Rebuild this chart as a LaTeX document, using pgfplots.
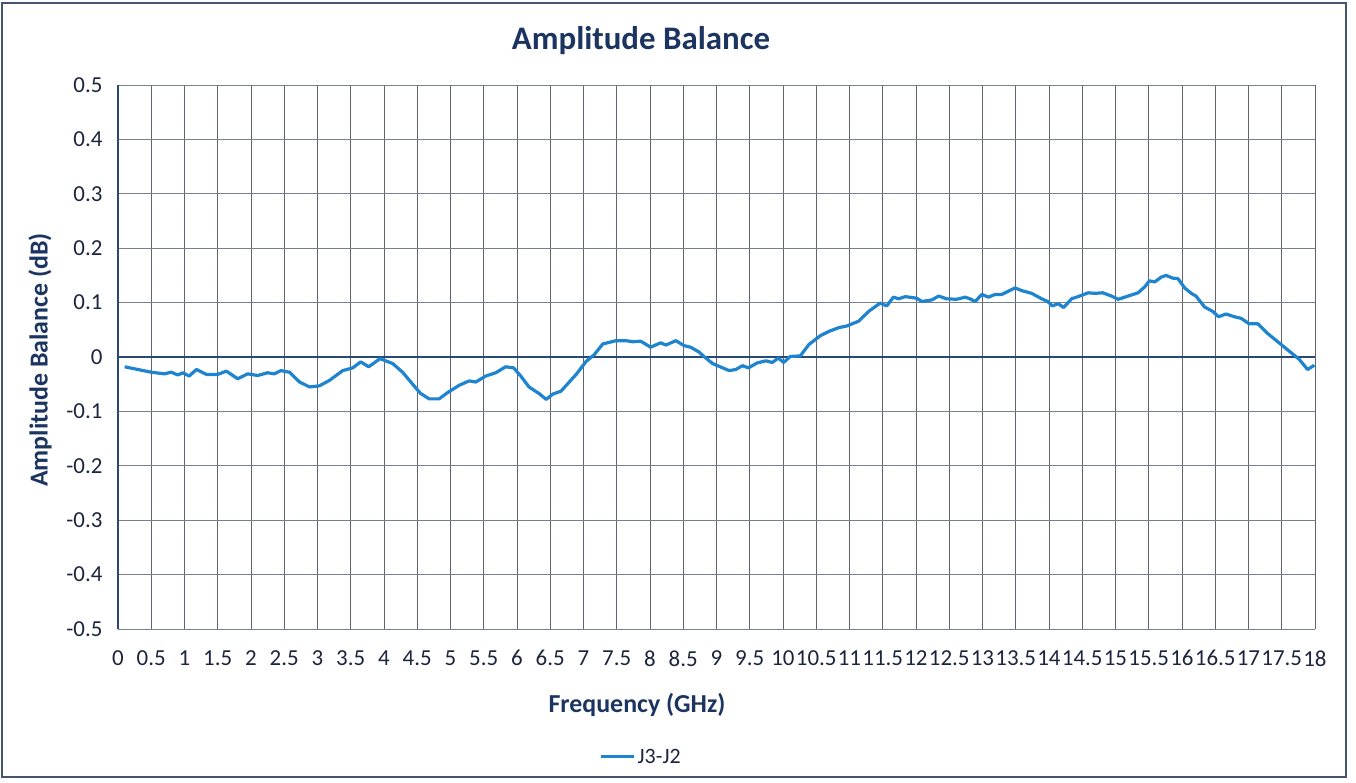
\documentclass[border=0pt]{standalone}
\usepackage{pgfplots}
\pgfplotsset{compat=1.18}
\usepackage{fontspec}
\setmainfont{Carlito}
\definecolor{titleblue}{RGB}{28,52,96}
\definecolor{tickcol}{RGB}{28,36,62}
\definecolor{curve}{RGB}{30,132,208}
\definecolor{gridc}{RGB}{120,128,140}
\definecolor{vgrid}{RGB}{95,100,110}
\definecolor{axisc}{RGB}{40,72,120}
\definecolor{framec}{RGB}{70,85,110}
\begin{document}
\begin{tikzpicture}
\path[use as bounding box] (0,0) rectangle (1356bp,783bp);
\draw[framec, line width=2.2bp] (2bp,6bp) rectangle (1346bp,780bp);
\begin{axis}[
  at={(118bp,154bp)}, anchor=south west,
  scale only axis, width=1197bp, height=544bp,
  xmin=0, xmax=18, ymin=-0.5, ymax=0.5,
  xtick={0,0.5,...,18}, ytick={-0.5,-0.4,...,0.5},
  /pgf/number format/assume math mode=true,
  /pgf/number format/fixed, /pgf/number format/precision=1,
  yticklabel style={/pgf/number format/fixed, /pgf/number format/precision=1},
  major tick length=0pt,
  axis line style={draw=none},
  ymajorgrids, xmajorgrids,
  major y grid style={gridc, line width=0.9bp},
  major x grid style={vgrid, line width=0.7bp},
  tick label style={font=\fontsize{23}{26}\selectfont, text=tickcol},
  xticklabel style={yshift=-18bp},
  yticklabel style={xshift=-12bp},
  title={\textbf{Amplitude Balance}},
  title style={at={(rel axis cs:0.4369,1.070)}, anchor=center, font=\fontsize{33}{38}\selectfont, text=titleblue},
  xlabel={\textbf{Frequency (GHz)}},
  xlabel style={at={(rel axis cs:0.4336,-0.14)}, anchor=center, font=\fontsize{26}{30}\selectfont, text=titleblue},
  ylabel={\textbf{Amplitude Balance (dB)}},
  every axis y label/.style={at={(rel axis cs:-0.0652,0.4945)}, rotate=90, anchor=center, font=\fontsize{26}{30}\selectfont, text=titleblue},
  legend style={at={(rel axis cs:0.437,-0.235)}, anchor=center, draw=none, fill=none, font=\fontsize{22}{25}\selectfont, text=tickcol, inner sep=0pt},
  legend image code/.code={\draw[curve, line width=3.2bp] (0bp,0bp) -- (33bp,0bp);},
  clip=false,
]
\draw[axisc, line width=1.6bp] (axis cs:0,0) -- (axis cs:18,0);
\draw[axisc, line width=1.8bp] (axis cs:0,-0.5) -- (axis cs:0,0.5);
\addplot[curve, line width=3.2bp, line join=round] coordinates {
(0.10,-0.018) (0.30,-0.023) (0.50,-0.028) (0.70,-0.031) (0.80,-0.028) (0.90,-0.033)
(0.975,-0.029) (1.07,-0.035) (1.18,-0.023) (1.33,-0.032) (1.50,-0.032) (1.63,-0.026)
(1.80,-0.040) (1.95,-0.031) (2.10,-0.034) (2.25,-0.029) (2.35,-0.031) (2.45,-0.025)
(2.58,-0.028) (2.73,-0.046) (2.88,-0.055) (3.03,-0.053) (3.18,-0.043) (3.38,-0.025)
(3.53,-0.020) (3.65,-0.009) (3.77,-0.018) (3.94,-0.003) (4.13,-0.012) (4.28,-0.028)
(4.43,-0.050) (4.55,-0.067) (4.68,-0.077) (4.83,-0.077) (4.95,-0.066) (5.13,-0.052)
(5.28,-0.044) (5.38,-0.046) (5.53,-0.035) (5.68,-0.029) (5.83,-0.018) (5.95,-0.020)
(6.05,-0.034) (6.18,-0.055) (6.33,-0.067) (6.44,-0.078) (6.54,-0.068) (6.66,-0.063)
(6.89,-0.032) (7.04,-0.008) (7.16,0.004) (7.29,0.024) (7.49,0.030) (7.64,0.030)
(7.74,0.028) (7.86,0.029) (8.01,0.018) (8.16,0.026) (8.24,0.022) (8.39,0.030)
(8.51,0.021) (8.61,0.018) (8.74,0.009) (8.81,0.001) (8.94,-0.012) (9.19,-0.025)
(9.29,-0.023) (9.39,-0.016) (9.48,-0.020) (9.61,-0.011) (9.74,-0.007) (9.84,-0.010)
(9.93,-0.002) (10.01,-0.010) (10.11,0.001) (10.26,0.002) (10.39,0.023) (10.56,0.039)
(10.69,0.047) (10.84,0.054) (10.96,0.057) (11.14,0.066) (11.29,0.084) (11.46,0.099)
(11.56,0.094) (11.66,0.110) (11.74,0.107) (11.84,0.111) (12.01,0.108) (12.09,0.102)
(12.24,0.105) (12.34,0.112) (12.46,0.107) (12.61,0.106) (12.74,0.110) (12.81,0.107)
(12.89,0.102) (12.99,0.115) (13.09,0.110) (13.19,0.115) (13.29,0.115) (13.39,0.121)
(13.49,0.127) (13.59,0.122) (13.74,0.117) (13.89,0.107) (13.98,0.102) (14.05,0.094)
(14.14,0.098) (14.22,0.091) (14.34,0.107) (14.46,0.112) (14.59,0.118) (14.69,0.117)
(14.81,0.118) (14.94,0.112) (15.04,0.106) (15.19,0.112) (15.34,0.118) (15.44,0.129)
(15.51,0.140) (15.59,0.138) (15.69,0.147) (15.76,0.150) (15.86,0.145) (15.94,0.144)
(16.04,0.127) (16.14,0.117) (16.21,0.112) (16.34,0.092) (16.46,0.084) (16.55,0.074)
(16.66,0.079) (16.79,0.074) (16.89,0.071) (17.01,0.061) (17.14,0.061) (17.29,0.043)
(17.49,0.023) (17.66,0.006) (17.76,-0.004) (17.89,-0.023) (17.99,-0.015)
};
\addlegendentry{J3-J2}
\end{axis}
\end{tikzpicture}
\end{document}
